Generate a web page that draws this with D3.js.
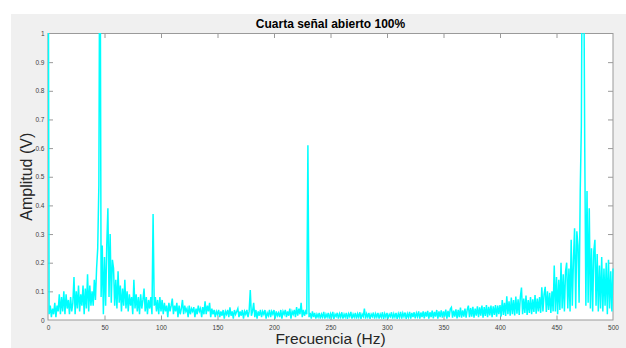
<!DOCTYPE html>
<html>
<head>
<meta charset="utf-8">
<script src="https://cdn.jsdelivr.net/npm/d3@7"></script>
<style>
  html, body { margin: 0; padding: 0; background: #ffffff; }
  svg { display: block; font-family: "Liberation Sans", Arial, Helvetica, sans-serif; }
</style>
</head>
<body>
<svg id="chart" width="626" height="348"></svg>
<script>
// Texts and ticks
const titleText = "Cuarta señal abierto 100%";
const xLabelText = "Frecuencia (Hz)";
const yLabelText = "Amplitud (V)";
const xTicks = [0, 50, 100, 150, 200, 250, 300, 350, 400, 450, 500];
const yTicks = [0, 0.1, 0.2, 0.3, 0.4, 0.5, 0.6, 0.7, 0.8, 0.9, 1];
const xDomain = [0, 500];
const yDomain = [0, 1];

// Spectrum amplitude (V), one value per Hz
const amp000 = [
  1.80, 0.02, 0.05, 0.01, 0.04, 0.02, 0.06, 0.01, 0.05, 0.03,
  0.09, 0.02, 0.08, 0.03, 0.10, 0.02, 0.09, 0.04, 0.07, 0.02,
  0.08, 0.03, 0.06, 0.15, 0.02, 0.10, 0.04, 0.12, 0.03, 0.09,
  0.05, 0.12, 0.02, 0.11, 0.04, 0.16, 0.03, 0.12, 0.05, 0.10,
  0.05, 0.14, 0.07, 0.18, 0.25, 0.47, 1.60, 0.08, 0.26, 0.02,
  0.22, 0.05, 0.26, 0.39, 0.08, 0.30, 0.06, 0.21, 0.18, 0.05,
  0.14, 0.04, 0.17, 0.06, 0.12, 0.03, 0.11, 0.05, 0.14, 0.04,
  0.10, 0.03, 0.09, 0.05, 0.08, 0.02, 0.14, 0.04, 0.09, 0.03,
  0.08, 0.02, 0.09, 0.04, 0.07, 0.11, 0.03, 0.08, 0.02, 0.07,
  0.04, 0.08, 0.02, 0.37, 0.05, 0.08, 0.03, 0.07, 0.02, 0.08
];
const amp100 = [
  0.03, 0.07, 0.02, 0.06, 0.03, 0.05, 0.01, 0.06, 0.03, 0.05,
  0.075, 0.02, 0.05, 0.03, 0.06, 0.01, 0.05, 0.02, 0.04, 0.07,
  0.02, 0.05, 0.03, 0.04, 0.01, 0.05, 0.02, 0.04, 0.03, 0.045,
  0.01, 0.04, 0.02, 0.05, 0.03, 0.04, 0.01, 0.045, 0.02, 0.065,
  0.02, 0.05, 0.03, 0.06, 0.01, 0.04, 0.02, 0.035, 0.01, 0.03,
  0.02, 0.035, 0.01, 0.03, 0.015, 0.035, 0.005, 0.03, 0.02, 0.035,
  0.01, 0.044, 0.015, 0.03, 0.005, 0.035, 0.02, 0.03, 0.04, 0.01,
  0.03, 0.015, 0.035, 0.005, 0.03, 0.02, 0.035, 0.01, 0.03, 0.105,
  0.015, 0.03, 0.06, 0.01, 0.035, 0.005, 0.03, 0.015, 0.035, 0.01,
  0.03, 0.02, 0.035, 0.005, 0.025, 0.015, 0.035, 0.01, 0.03, 0.02
];
const amp200 = [
  0.035, 0.005, 0.03, 0.015, 0.025, 0.01, 0.035, 0.005, 0.03, 0.02,
  0.035, 0.01, 0.03, 0.015, 0.04, 0.005, 0.03, 0.02, 0.035, 0.01,
  0.045, 0.015, 0.04, 0.02, 0.06, 0.01, 0.035, 0.015, 0.03, 0.02,
  0.61, 0.01, 0.025, 0.005, 0.03, 0.01, 0.025, 0.005, 0.02, 0.01,
  0.025, 0.005, 0.02, 0.01, 0.028, 0.005, 0.02, 0.01, 0.025, 0.005,
  0.022, 0.01, 0.028, 0.004, 0.02, 0.012, 0.025, 0.005, 0.022, 0.01,
  0.027, 0.005, 0.02, 0.01, 0.025, 0.004, 0.022, 0.012, 0.028, 0.005,
  0.02, 0.01, 0.025, 0.005, 0.022, 0.01, 0.027, 0.004, 0.02, 0.012,
  0.04, 0.005, 0.022, 0.01, 0.025, 0.004, 0.02, 0.012, 0.026, 0.005,
  0.022, 0.01, 0.025, 0.005, 0.02, 0.01, 0.027, 0.004, 0.022, 0.01
];
const amp300 = [
  0.025, 0.005, 0.02, 0.012, 0.027, 0.005, 0.022, 0.01, 0.025, 0.004,
  0.022, 0.01, 0.028, 0.005, 0.024, 0.012, 0.026, 0.004, 0.022, 0.01,
  0.028, 0.005, 0.025, 0.01, 0.027, 0.006, 0.024, 0.012, 0.03, 0.005,
  0.026, 0.01, 0.03, 0.006, 0.028, 0.012, 0.032, 0.005, 0.027, 0.01,
  0.033, 0.006, 0.028, 0.012, 0.035, 0.005, 0.03, 0.01, 0.034, 0.008,
  0.03, 0.012, 0.036, 0.005, 0.032, 0.01, 0.038, 0.044, 0.008, 0.033,
  0.012, 0.037, 0.006, 0.035, 0.01, 0.043, 0.008, 0.034, 0.012, 0.04,
  0.008, 0.036, 0.05, 0.01, 0.042, 0.012, 0.046, 0.008, 0.04, 0.015,
  0.048, 0.01, 0.044, 0.015, 0.05, 0.008, 0.045, 0.014, 0.052, 0.01,
  0.046, 0.016, 0.05, 0.01, 0.048, 0.018, 0.052, 0.012, 0.05, 0.02
];
const amp400 = [
  0.052, 0.012, 0.07, 0.018, 0.06, 0.014, 0.083, 0.02, 0.065, 0.015,
  0.078, 0.02, 0.07, 0.016, 0.082, 0.022, 0.072, 0.018, 0.08, 0.113,
  0.02, 0.075, 0.025, 0.085, 0.018, 0.07, 0.025, 0.08, 0.02, 0.072,
  0.028, 0.087, 0.022, 0.075, 0.03, 0.08, 0.025, 0.114, 0.03, 0.09,
  0.116, 0.028, 0.10, 0.035, 0.095, 0.025, 0.10, 0.03, 0.19, 0.03,
  0.15, 0.02, 0.14, 0.035, 0.20, 0.04, 0.16, 0.03, 0.17, 0.20,
  0.04, 0.18, 0.03, 0.28, 0.05, 0.21, 0.32, 0.04, 0.31, 0.26,
  0.06, 0.45, 0.68, 1.50, 1.35, 0.60, 0.05, 0.45, 0.06, 0.39,
  0.04, 0.25, 0.03, 0.24, 0.28, 0.05, 0.23, 0.03, 0.19, 0.04,
  0.22, 0.03, 0.18, 0.05, 0.20, 0.02, 0.21, 0.04, 0.17, 0.03,
  0.18
];

const amplitude = [].concat(amp000, amp100, amp200, amp300, amp400);
const freqStep = 1; // Hz between samples
const spectrum = amplitude.map((a, i) => ({ f: i * freqStep, a }));

// Layout
const W = 626, H = 348;
const plot = { left: 48, top: 33.5, right: 613, bottom: 320 };
const axisColor = "#9a9a9a";
const textColor = "#404040";

const svg = d3.select("#chart");

// Figure background
svg.append("rect")
  .attr("x", 11).attr("y", 14)
  .attr("width", W - 11).attr("height", H - 14)
  .attr("fill", "#f0f0f0");

// Axes background
svg.append("rect")
  .attr("x", plot.left).attr("y", plot.top)
  .attr("width", plot.right - plot.left).attr("height", plot.bottom - plot.top)
  .attr("fill", "#ffffff");

const x = d3.scaleLinear().domain(xDomain).range([plot.left, plot.right]);
const y = d3.scaleLinear().domain(yDomain).range([plot.bottom, plot.top]);

const fmtY = d => (d === 0 || d === 1) ? String(d) : d3.format(".1f")(d);

// Bottom axis with labels
const gx = svg.append("g")
  .attr("transform", `translate(0,${plot.bottom})`)
  .call(d3.axisBottom(x).tickValues(xTicks).tickSizeInner(-4.5).tickSizeOuter(0).tickPadding(5.5).tickFormat(d3.format("d")));
// Left axis with labels
const gy = svg.append("g")
  .attr("transform", `translate(${plot.left},0)`)
  .call(d3.axisLeft(y).tickValues(yTicks).tickSizeInner(-5).tickSizeOuter(0).tickPadding(3.5).tickFormat(fmtY));
// Top and right axes (ticks only)
const gt = svg.append("g")
  .attr("transform", `translate(0,${plot.top})`)
  .call(d3.axisTop(x).tickValues(xTicks).tickSizeInner(-4.5).tickSizeOuter(0).tickFormat(""));
const gr = svg.append("g")
  .attr("transform", `translate(${plot.right},0)`)
  .call(d3.axisRight(y).tickValues(yTicks).tickSizeInner(-5).tickSizeOuter(0).tickFormat(""));

[gx, gy, gt, gr].forEach(g => {
  g.select(".domain").remove();
  g.selectAll(".tick line").attr("stroke", axisColor).attr("stroke-width", 1);
  g.selectAll(".tick text")
    .attr("fill", textColor)
    .style("font-size", "6.5px")
    .style("font-family", "'Liberation Sans', Arial, sans-serif");
});
gx.selectAll(".tick line").filter(d => d === 0 || d === 500).remove();
gt.selectAll(".tick line").filter(d => d === 0 || d === 500).remove();
gy.selectAll(".tick line").filter(d => d === 0 || d === 1).remove();
gr.selectAll(".tick line").filter(d => d === 0 || d === 1).remove();

// Axes box
svg.append("rect")
  .attr("x", plot.left).attr("y", plot.top)
  .attr("width", plot.right - plot.left).attr("height", plot.bottom - plot.top)
  .attr("fill", "none")
  .attr("stroke", axisColor)
  .attr("stroke-width", 1);

// Clip for the spectrum line
svg.append("clipPath").attr("id", "plotClip")
  .append("rect")
  .attr("x", plot.left - 1).attr("y", plot.top - 0.5)
  .attr("width", plot.right - plot.left + 2).attr("height", plot.bottom - plot.top + 1);

const line = d3.line().x(d => x(d.f)).y(d => y(d.a));

svg.append("path")
  .datum(spectrum)
  .attr("clip-path", "url(#plotClip)")
  .attr("fill", "none")
  .attr("stroke", "#00ffff")
  .attr("stroke-width", 1.5)
  .attr("stroke-linejoin", "miter")
  .attr("d", line);

// Title
svg.append("text")
  .attr("x", (plot.left + plot.right) / 2)
  .attr("y", 27.5)
  .attr("text-anchor", "middle")
  .attr("fill", "#000")
  .style("font-size", "12px")
  .style("font-weight", "bold")
  .text(titleText);

// Axis titles
svg.append("text")
  .attr("x", (plot.left + plot.right) / 2)
  .attr("y", 344)
  .attr("text-anchor", "middle")
  .attr("fill", "#262626")
  .style("font-size", "15.5px")
  .text(xLabelText);

svg.append("text")
  .attr("transform", `translate(31.5,${(plot.top + plot.bottom) / 2}) rotate(-90)`)
  .attr("text-anchor", "middle")
  .attr("fill", "#262626")
  .style("font-size", "16px")
  .text(yLabelText);
</script>
</body>
</html>
